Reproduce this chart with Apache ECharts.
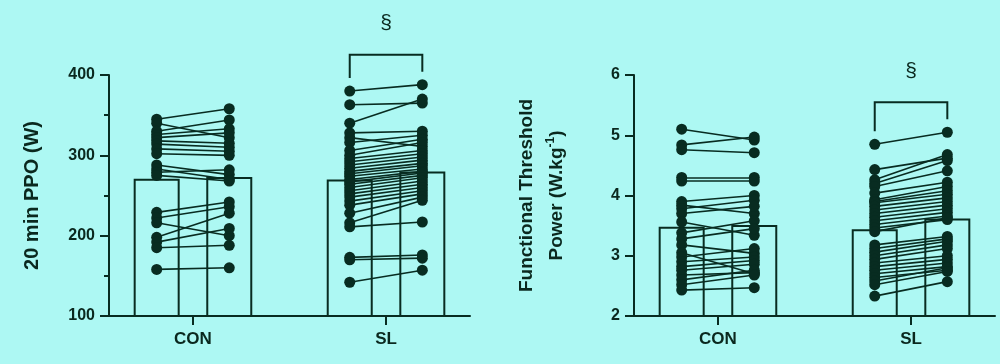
<!DOCTYPE html>
<html>
<head>
<meta charset="utf-8">
<script src="https://cdn.jsdelivr.net/npm/echarts@6/dist/echarts.min.js"></script>
<style>
html,body{margin:0;padding:0;background:#adf8f3;}
#c{width:1000px;height:364px;}
</style>
</head>
<body>
<div id="c"></div>
<script>
// ---- data ----
const groups = ['CON', 'SL'];
const ppoTicks = [100, 200, 300, 400];
const ftpTicks = [2, 3, 4, 5, 6];

// 20 min PPO (W), paired by index
const ppoConPre  = [345, 340, 330, 326, 322, 318, 314, 308, 302, 288, 283, 279, 275, 229, 222, 216, 198, 192, 185, 158];
const ppoConPost = [358, 322, 344, 333, 328, 315, 310, 305, 300, 276, 270, 282, 268, 242, 236, 200, 228, 209, 188, 160];
const ppoSlPre   = [380, 363, 340, 328, 322, 316, 306, 300, 296, 292, 288, 284, 280, 277, 274, 270, 267, 264, 260, 256, 252, 248, 243, 238, 228, 216, 211, 173, 170, 142];
const ppoSlPost  = [388, 365, 370, 330, 311, 325, 320, 316, 306, 302, 298, 294, 290, 287, 283, 280, 278, 275, 272, 268, 264, 260, 256, 252, 248, 244, 217, 176, 172, 157];
const ppoMeans   = [271, 273, 270, 280]; // CON pre, CON post, SL pre, SL post

// Functional Threshold Power (W.kg-1), paired by index
const ftpConPre  = [5.10, 4.84, 4.76, 4.30, 4.24, 3.90, 3.84, 3.78, 3.70, 3.56, 3.38, 3.28, 3.18, 3.05, 2.98, 2.90, 2.82, 2.76, 2.68, 2.60, 2.52, 2.43];
const ftpConPost = [4.92, 4.97, 4.71, 4.30, 4.24, 4.00, 3.70, 3.92, 3.82, 3.34, 3.58, 3.45, 3.04, 2.70, 3.12, 2.98, 2.92, 2.86, 2.72, 2.76, 2.68, 2.47];
const ftpSlPre   = [4.85, 4.43, 4.26, 4.20, 4.15, 4.04, 3.93, 3.90, 3.88, 3.82, 3.76, 3.70, 3.64, 3.58, 3.52, 3.46, 3.40, 3.18, 3.12, 3.06, 3.00, 2.94, 2.88, 2.82, 2.76, 2.70, 2.64, 2.58, 2.52, 2.33];
const ftpSlPost  = [5.05, 4.62, 4.68, 4.58, 4.41, 4.22, 4.15, 4.08, 4.02, 3.96, 3.90, 3.84, 3.78, 3.72, 3.66, 3.60, 3.63, 3.32, 3.28, 3.24, 3.18, 3.12, 3.00, 2.94, 2.88, 2.82, 2.76, 2.80, 2.74, 2.57];
const ftpMeans   = [3.48, 3.51, 3.44, 3.62];

// ---- style ----
const BG = '#adf8f3';
const DARK = '#082c21';
const TXT = '#0a281e';
const FONT = "'Liberation Sans', Arial, Helvetica, sans-serif";
const OFF = 0.188;

function panelSeries(gi, conPre, conPost, slPre, slPost, means) {
  const sets = [[conPre, conPost], [slPre, slPost]];
  const series = [];
  series.push({
    type: 'bar', xAxisIndex: gi, yAxisIndex: gi, barWidth: 46, z: 1, silent: true,
    data: means.map((m, i) => [Math.floor(i / 2) + 1 + (i % 2 ? OFF : -OFF), m]),
    itemStyle: { color: 'rgba(0,0,0,0)', borderColor: DARK, borderWidth: 2 }
  });
  const lineData = [];
  const dots = [];
  sets.forEach((s, g) => {
    const xc = g + 1;
    s[0].forEach((v, k) => {
      lineData.push({ coords: [[xc - OFF, v], [xc + OFF, s[1][k]]] });
      dots.push([xc - OFF, v]);
      dots.push([xc + OFF, s[1][k]]);
    });
  });
  series.push({
    type: 'lines', coordinateSystem: 'cartesian2d', xAxisIndex: gi, yAxisIndex: gi, z: 2, silent: true,
    data: lineData, lineStyle: { color: DARK, width: 1.6, opacity: 1 }
  });
  series.push({
    type: 'scatter', xAxisIndex: gi, yAxisIndex: gi, z: 3, silent: true, symbolSize: 11,
    data: dots, itemStyle: { color: DARK, opacity: 1 }
  });
  return series;
}

function xAxisDef(gi) {
  return {
    gridIndex: gi, type: 'value', min: 0.565, max: 2.435,
    axisLine: { show: true, onZero: false, lineStyle: { color: DARK, width: 2 } },
    axisTick: { show: true, length: 9, customValues: [1, 2], lineStyle: { color: DARK, width: 2 } },
    axisLabel: { show: true, customValues: [1, 2], margin: 15, formatter: v => groups[Math.round(v) - 1],
      color: TXT, fontFamily: FONT, fontWeight: 'bold', fontSize: 17 },
    splitLine: { show: false }
  };
}

const chart = echarts.init(document.getElementById('c'), null, { renderer: 'canvas' });
const option = {
  backgroundColor: BG,
  animation: false,
  grid: [
    { left: 109, right: 530, top: 75, bottom: 48 },
    { left: 634, right: 5, top: 75, bottom: 48 }
  ],
  xAxis: [xAxisDef(0), xAxisDef(1)],
  yAxis: [
    {
      gridIndex: 0, type: 'value', min: ppoTicks[0], max: ppoTicks[ppoTicks.length - 1], interval: 100,
      name: '20 min PPO (W)', nameLocation: 'middle', nameGap: 67,
      nameTextStyle: { color: TXT, fontFamily: FONT, fontWeight: 'bold', fontSize: 20 },
      axisLine: { show: true, lineStyle: { color: DARK, width: 2 } },
      axisTick: { show: true, length: 9, lineStyle: { color: DARK, width: 2 } },
      minorTick: { show: true, splitNumber: 2, length: 5, lineStyle: { color: DARK, width: 2 } },
      axisLabel: { color: TXT, fontFamily: FONT, fontWeight: 'bold', fontSize: 16, margin: 14 },
      splitLine: { show: false }, minorSplitLine: { show: false }
    },
    {
      gridIndex: 1, type: 'value', min: ftpTicks[0], max: ftpTicks[ftpTicks.length - 1], interval: 1,
      name: '{a|Functional Threshold}\n{a|Power (W.kg}{s|-1}{a|)}', nameLocation: 'middle', nameGap: 62,
      nameTextStyle: {
        color: TXT, fontFamily: FONT, fontWeight: 'bold', fontSize: 19, lineHeight: 30,
        rich: {
          a: { color: TXT, fontFamily: FONT, fontWeight: 'bold', fontSize: 19, lineHeight: 30 },
          s: { color: TXT, fontFamily: FONT, fontWeight: 'bold', fontSize: 12, padding: [0, 0, 12, 0] }
        }
      },
      axisLine: { show: true, lineStyle: { color: DARK, width: 2 } },
      axisTick: { show: true, length: 9, lineStyle: { color: DARK, width: 2 } },
      axisLabel: { color: TXT, fontFamily: FONT, fontWeight: 'bold', fontSize: 16, margin: 14 },
      splitLine: { show: false }
    }
  ],
  series: [].concat(
    panelSeries(0, ppoConPre, ppoConPost, ppoSlPre, ppoSlPost, ppoMeans),
    panelSeries(1, ftpConPre, ftpConPost, ftpSlPre, ftpSlPost, ftpMeans)
  )
};
chart.setOption(option);

// significance brackets over SL (pre vs post)
function bracket(gi, pre, post) {
  const pL = chart.convertToPixel({ gridIndex: gi }, [2 - OFF, Math.max.apply(null, pre)]);
  const pR = chart.convertToPixel({ gridIndex: gi }, [2 + OFF, Math.max.apply(null, post)]);
  const yL = pL[1] - 13, yR = pR[1] - 13;
  const yTop = Math.min(yL, yR) - 17;
  return [
    { type: 'polyline', silent: true, z: 10,
      shape: { points: [[pL[0], yL], [pL[0], yTop], [pR[0], yTop], [pR[0], yR]] },
      style: { stroke: DARK, lineWidth: 2, fill: null } },
    { type: 'text', silent: true, z: 10, x: (pL[0] + pR[0]) / 2, y: yTop - 31,
      style: { text: '§', fill: TXT, font: '21px ' + FONT, align: 'center', verticalAlign: 'middle' } }
  ];
}
chart.setOption({ graphic: [].concat(bracket(0, ppoSlPre, ppoSlPost), bracket(1, ftpSlPre, ftpSlPost)) });
</script>
</body>
</html>
